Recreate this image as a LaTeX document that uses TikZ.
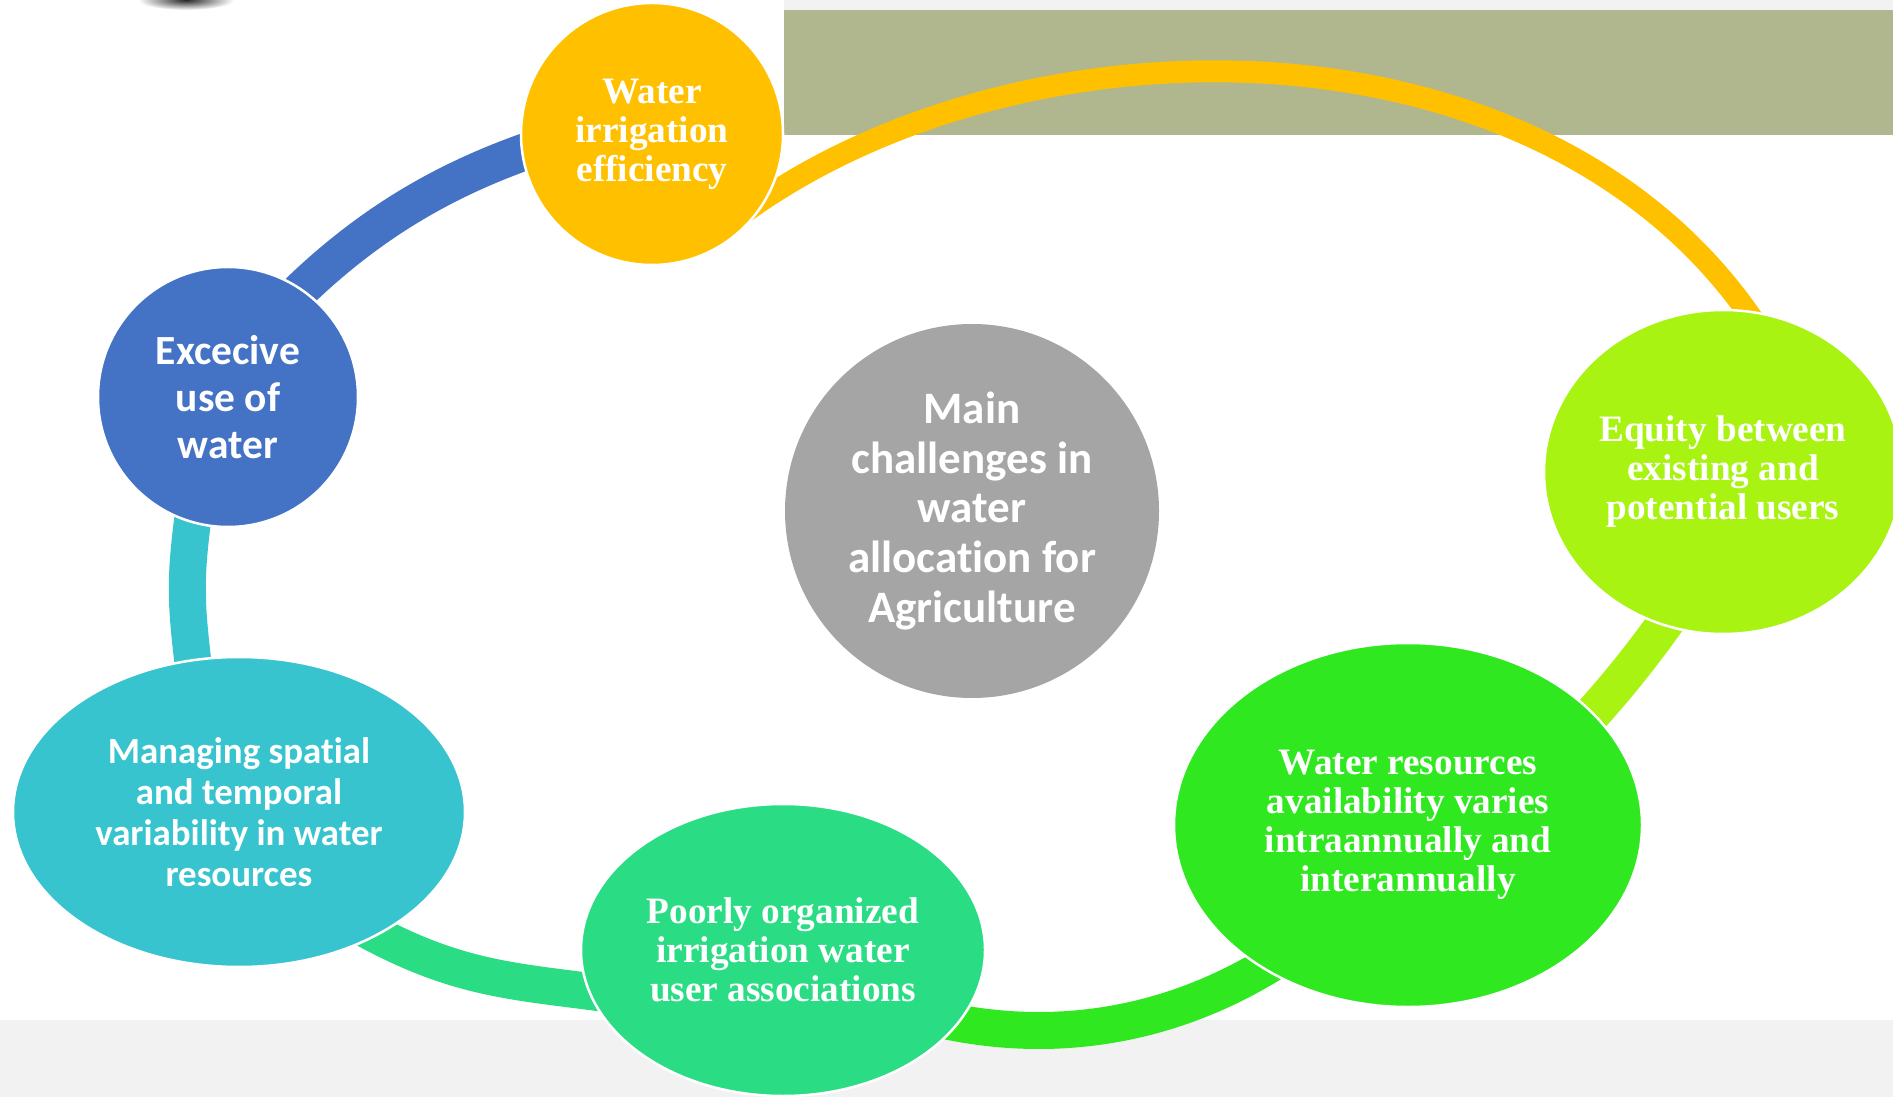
\documentclass[tikz,border=0pt]{standalone}
\usepackage{fontspec}
\setmainfont{Liberation Serif}
\newfontfamily\calibri[Ligatures=NoCommon]{Carlito}
\usepackage{xcolor}
\usepackage{tikz}
\usetikzlibrary{shapes.geometric, backgrounds}
\definecolor{cYellow}{HTML}{FFC000}
\definecolor{cBlue}{HTML}{4472C4}
\definecolor{cTeal}{HTML}{38C4CF}
\definecolor{cMint}{HTML}{2ADD85}
\definecolor{cGreen}{HTML}{2FE81F}
\definecolor{cLime}{HTML}{A8F312}
\definecolor{cGrey}{HTML}{A5A5A5}
\definecolor{cOlive}{HTML}{B0B78E}
\definecolor{cPale}{HTML}{F2F2F2}
\tikzstyle{bubble} = [ellipse, draw=white, line width=0.25mm, inner sep=0pt, outer sep=0pt, text=white, align=center]
\tikzstyle{serif} = [font=\bfseries\fontsize{10.6}{11.1}\selectfont, execute at begin node={\rule{0pt}{9.3pt}}]
\tikzstyle{sans} = [font=\calibri\bfseries\fontsize{10.5}{11.7}\selectfont]
\tikzstyle{link} = [line width=3.7mm, shorten <=-3mm, shorten >=-3mm]

\begin{document}
\begin{tikzpicture}[x=0.1mm, y=0.1mm]
            \useasboundingbox (0,0) rectangle (1893,-1097);
            \node[bubble, serif, fill=cYellow, minimum width=26.2mm, minimum height=26.2mm] (effic) at (652,-134) {Water\\irrigation\\efficiency};
            \node[bubble, fill=cBlue, font=\calibri\bfseries\fontsize{11.8}{13.4}\selectfont, minimum width=26mm, minimum height=26mm] (excess) at (228,-397) {Excecive\\use of\\water};
            \node[bubble, sans, fill=cTeal, minimum width=45.2mm, minimum height=31mm] (manage) at (239,-812) {Managing spatial\\and temporal\\variability in water\\resources};
            \node[bubble, serif, fill=cMint, minimum width=40.4mm, minimum height=29.2mm] (poorly) at (783,-950) {Poorly organized\\irrigation water\\user associations};
            \node[bubble, serif, fill=cGreen, minimum width=46.8mm, minimum height=36.4mm] (avail) at (1408,-825) {Water resources\\availability varies\\intraannually and\\interannually};
            \node[bubble, serif, fill=cLime, minimum width=35.8mm, minimum height=32.4mm] (equity) at (1723,-472) {Equity between\\existing and\\potential users};
            \node[bubble, draw=none, fill=cGrey, font=\calibri\bfseries\fontsize{12.8}{14.2}\selectfont, minimum width=37.4mm, minimum height=37.4mm] (main) at (972,-511) {Main\\challenges in\\water\\allocation for\\Agriculture};
            \begin{pgfonlayer}{background}
                \fill[white] (0,0) rectangle (1893,-1097);
                \fill[cPale] (0,-1020) rectangle (1893,-1097);
                \fill[cPale] (784,0) rectangle (1893,-10);
                \fill[cOlive] (784,-10) rectangle (1893,-135);
                \shade[inner color=black!85, outer color=white] (186,0) ellipse [x radius=48, y radius=10];
                \draw[link, cBlue] (excess.56) .. controls +(46:100) and +(198:67) .. (effic.188);
                \draw[link, cYellow, line width=2.2mm] (effic.-28) .. controls +(36:321) and +(122:359) .. (equity.81);
                \draw[link, cLime] (equity.249) .. controls +(236:26) and +(46:26) .. (avail.31);
                \draw[link, cGreen] (avail.225) .. controls +(214:110) and +(-14:92) .. (poorly.-23);
                \draw[link, cMint] (poorly.192) .. controls +(172:77) and +(-30:93) .. (manage.-42);
                \draw[link, cTeal] (manage.107) .. controls +(97:62) and +(262:62) .. (excess.254);
            \end{pgfonlayer}
        \end{tikzpicture}
\end{document}
